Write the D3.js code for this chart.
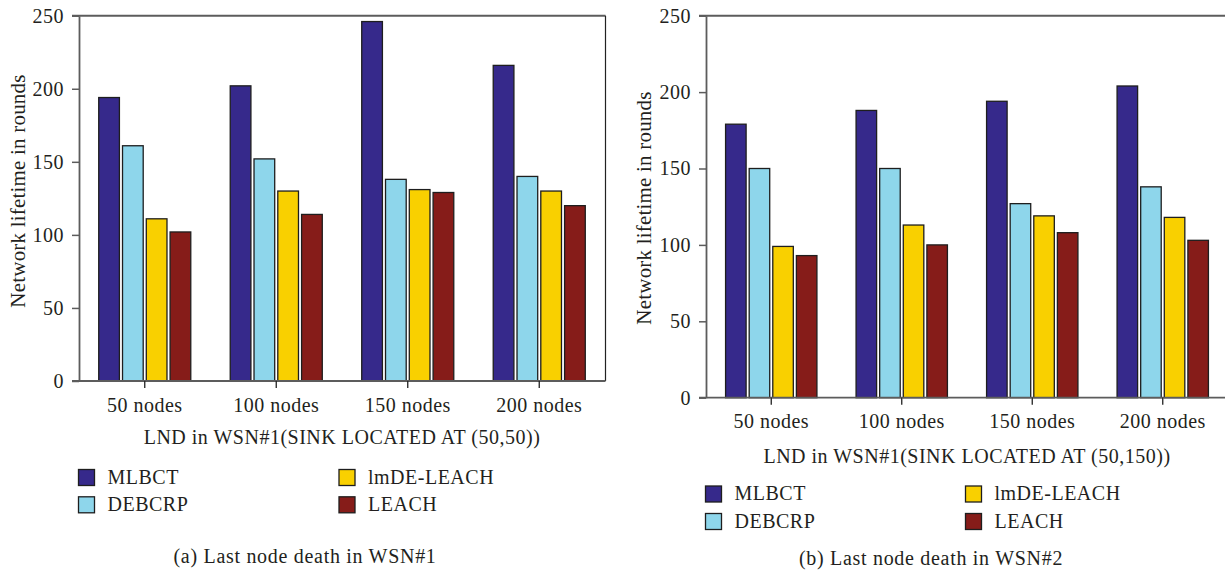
<!DOCTYPE html>
<html>
<head>
<meta charset="utf-8">
<script src="https://cdn.jsdelivr.net/npm/d3@7"></script>
<style>
  html, body { margin: 0; padding: 0; background: #fff; }
  svg { display: block; }
  text { font-family: "Liberation Serif", "Times New Roman", serif; fill: #231f20; letter-spacing: 0.5px; }
</style>
</head>
<body>
<svg id="chart" width="1225" height="576"></svg>
<script>
// Node counts along the x axis
const categories = ["50 nodes", "100 nodes", "150 nodes", "200 nodes"];
// Protocols compared
const seriesNames = ["MLBCT", "DEBCRP", "lmDE-LEACH", "LEACH"];
const seriesColors = ["#36298b", "#8ed6eb", "#f9d000", "#861c19"];
const yTicks = [0, 50, 100, 150, 200, 250];

// Last node death (rounds), WSN#1, sink at (50,50)
const wsn1MLBCT  = [194, 202, 246, 216];
const wsn1DEBCRP = [161, 152, 138, 140];
const wsn1LmDE   = [111, 130, 131, 130];
const wsn1LEACH  = [102, 114, 129, 120];

// Last node death (rounds), WSN#2, sink at (50,150)
const wsn2MLBCT  = [179, 188, 194, 204];
const wsn2DEBCRP = [150, 150, 127, 138];
const wsn2LmDE   = [99, 113, 119, 118];
const wsn2LEACH  = [93, 100, 108, 103];

const svg = d3.select("#chart");

function drawPanel(p) {
  const g = svg.append("g");
  const series = [p.s1, p.s2, p.s3, p.s4];

  const y = d3.scaleLinear().domain([0, 250]).range([p.y0, p.y1]);
  const x0 = d3.scaleBand().domain(categories).range([p.x0, p.x1])
    .paddingInner(0.3).paddingOuter(0.15);
  const x1 = d3.scaleBand().domain(seriesNames).range([0, x0.bandwidth()])
    .paddingInner(0.13);

  // top frame line
  g.append("line")
    .attr("x1", p.x0 - 7).attr("x2", p.frameRight)
    .attr("y1", y(250)).attr("y2", y(250))
    .attr("stroke", "#5c5c5c").attr("stroke-width", 2);
  // right frame edge
  if (p.rightEdge) {
    g.append("line")
      .attr("x1", p.frameRight).attr("x2", p.frameRight)
      .attr("y1", y(250)).attr("y2", y(0))
      .attr("stroke", "#222").attr("stroke-width", 1.2);
  }

  // bars
  const groups = g.append("g").selectAll("g")
    .data(categories).join("g")
    .attr("transform", d => `translate(${x0(d)},0)`);
  groups.selectAll("rect")
    .data((c, ci) => seriesNames.map((s, si) => ({ s, si, v: series[si][ci] })))
    .join("rect")
    .attr("x", d => x1(d.s))
    .attr("width", x1.bandwidth())
    .attr("y", d => y(d.v))
    .attr("height", d => y(0) - y(d.v))
    .attr("fill", d => seriesColors[d.si])
    .attr("stroke", "#1e1e1e")
    .attr("stroke-width", 1.3);

  // y axis
  const ya = g.append("g")
    .attr("transform", `translate(${p.x0},0)`)
    .call(d3.axisLeft(y).tickValues(yTicks).tickSize(7).tickSizeOuter(0).tickPadding(8));
  ya.select(".domain").attr("stroke", "#5c5c5c").attr("stroke-width", 1.8);
  ya.selectAll(".tick line").attr("stroke", "#5c5c5c").attr("stroke-width", 1.5);
  ya.selectAll(".tick text").style("font-size", "20px").style("font-family", "Liberation Serif").attr("fill", "#231f20");

  // x axis
  g.append("line")
    .attr("x1", p.x0 - 7).attr("x2", p.frameRight)
    .attr("y1", y(0)).attr("y2", y(0))
    .attr("stroke", "#5c5c5c").attr("stroke-width", 1.8);
  const xa = g.append("g")
    .attr("transform", `translate(0,${y(0)})`)
    .call(d3.axisBottom(x0).tickSize(7).tickSizeOuter(0));
  xa.select(".domain").remove();
  xa.selectAll(".tick line").attr("stroke", "#222").attr("stroke-width", 1.3);
  xa.selectAll(".tick text")
    .attr("y", 30.5).attr("dy", 0)
    .style("font-size", "20px").style("font-family", "Liberation Serif").attr("fill", "#231f20");

  // axis titles
  g.append("text")
    .attr("transform", `translate(${p.yTitleX},${p.yTitleY}) rotate(-90)`)
    .attr("text-anchor", "middle")
    .style("font-size", "21px")
    .style("letter-spacing", "0.2px")
    .text("Network lifetime in rounds");
  g.append("text")
    .attr("x", (p.x0 + p.x1) / 2).attr("y", p.xTitleY)
    .attr("text-anchor", "middle")
    .style("font-size", "20px")
    .text(p.xTitle);

  // legend
  seriesNames.forEach((s, i) => {
    const col = i < 2 ? 0 : 1;
    const row = i % 2;
    const bx = p.legX[col];
    const by = p.legY + row * p.legRow;
    g.append("rect")
      .attr("x", bx).attr("y", by).attr("width", 16).attr("height", 16)
      .attr("fill", seriesColors[i]).attr("stroke", "#1e1e1e").attr("stroke-width", 1.3);
    g.append("text")
      .attr("x", bx + 29).attr("y", by + 14)
      .style("font-size", "20px")
      .text(s);
  });

  // caption
  g.append("text")
    .attr("x", p.capX).attr("y", p.capY)
    .attr("text-anchor", "middle")
    .style("font-size", "20px")
    .style("letter-spacing", "0.7px")
    .text(p.caption);
}

drawPanel({
  s1: wsn1MLBCT, s2: wsn1DEBCRP, s3: wsn1LmDE, s4: wsn1LEACH,
  x0: 79, x1: 605, y0: 381, y1: 15.7, frameRight: 605.5, rightEdge: true,
  yTitleX: 25, yTitleY: 191,
  xTitle: "LND in WSN#1(SINK LOCATED AT (50,50))", xTitleY: 444,
  legX: [78.5, 339], legY: 469.5, legRow: 27.3,
  caption: "(a) Last node death in WSN#1", capX: 305, capY: 563
});

drawPanel({
  s1: wsn2MLBCT, s2: wsn2DEBCRP, s3: wsn2LmDE, s4: wsn2LEACH,
  x0: 706, x1: 1228, y0: 397.7, y1: 15.7, frameRight: 1226, rightEdge: false,
  yTitleX: 651, yTitleY: 208,
  xTitle: "LND in WSN#1(SINK LOCATED AT (50,150))", xTitleY: 463,
  legX: [705.5, 965.5], legY: 486, legRow: 27.5,
  caption: "(b) Last node death in WSN#2", capX: 931, capY: 565
});
</script>
</body>
</html>
